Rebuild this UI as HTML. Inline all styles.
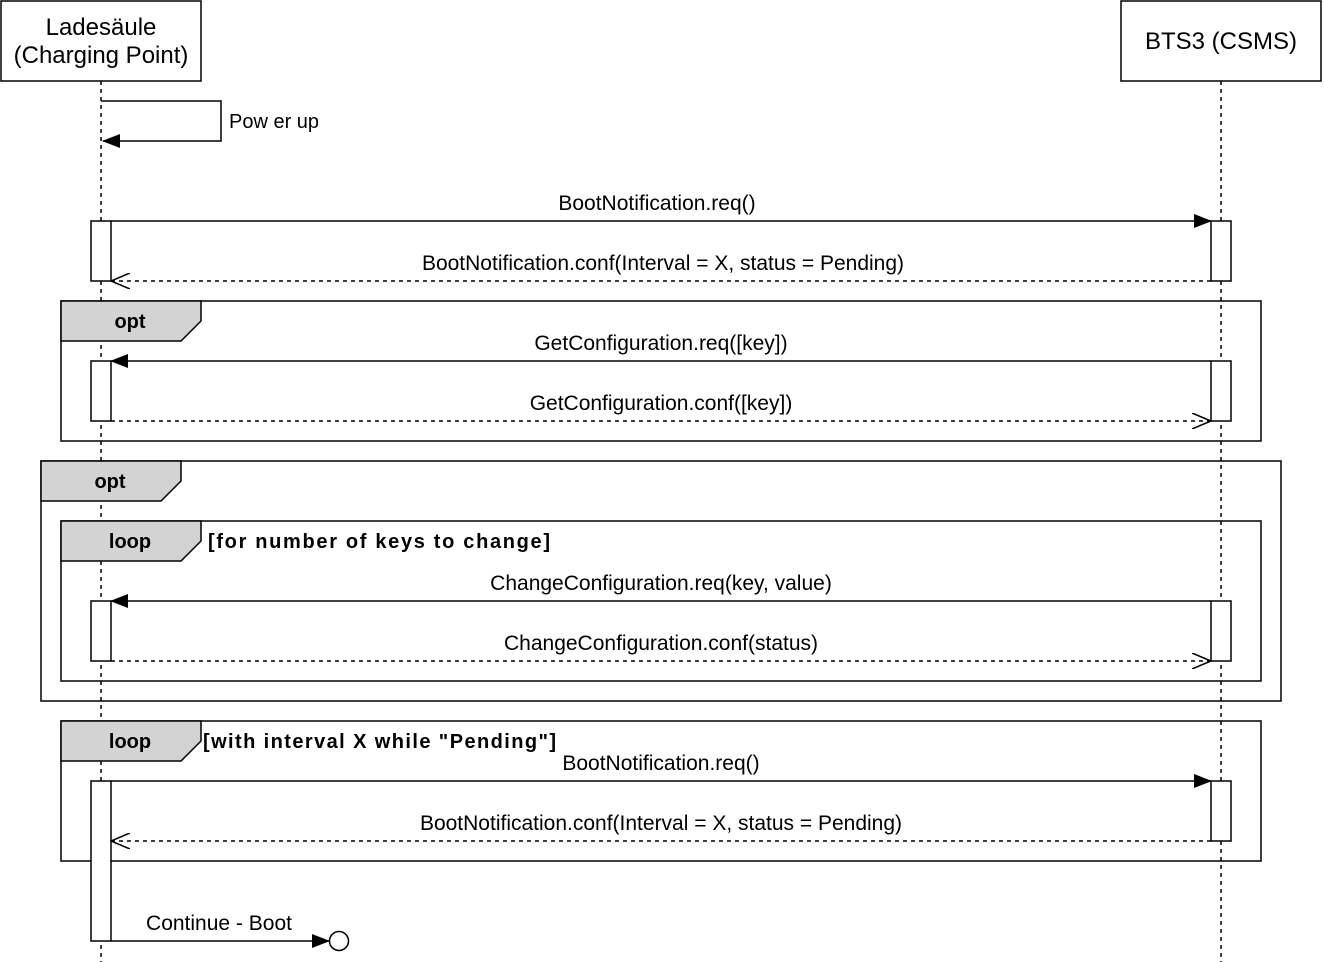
<!DOCTYPE html>
<html><head><meta charset="utf-8"><style>
html,body{margin:0;padding:0;background:#fff}
svg{display:block}
text{font-family:"Liberation Sans",Arial,sans-serif;fill:#000}
</style></head><body>
<svg width="1324" height="962" viewBox="0 0 1324 962" xmlns="http://www.w3.org/2000/svg">
<defs>
<marker id="fa" markerWidth="18" markerHeight="14" refX="17" refY="7" orient="auto" markerUnits="userSpaceOnUse"><path d="M0,0 L18,7 L0,14 Z" fill="#000"/></marker>
<marker id="oa" markerWidth="20" markerHeight="16" refX="19" refY="8" orient="auto" markerUnits="userSpaceOnUse"><path d="M0,0 L19,8 L0,16" fill="none" stroke="#000" stroke-width="1.5"/></marker>
</defs>
<g stroke="#000" stroke-width="1.5" fill="none">
<line x1="101" y1="81" x2="101" y2="962" stroke-dasharray="4,4"/>
<line x1="1221" y1="81" x2="1221" y2="962" stroke-dasharray="4,4"/>
<rect x="1" y="1" width="200" height="80" fill="#fff"/>
<rect x="1121" y="1" width="200" height="80" fill="#fff"/>
<rect x="61" y="301" width="1200" height="140"/>
<rect x="41" y="461" width="1240" height="240"/>
<rect x="61" y="521" width="1200" height="160"/>
<rect x="61" y="721" width="1200" height="140"/>
<path d="M61,301 H201 V321 L181,341 H61 Z" fill="#d3d3d3"/>
<path d="M41,461 H181 V481 L161,501 H41 Z" fill="#d3d3d3"/>
<path d="M61,521 H201 V541 L181,561 H61 Z" fill="#d3d3d3"/>
<path d="M61,721 H201 V741 L181,761 H61 Z" fill="#d3d3d3"/>
<path d="M101,101 H221 V141 H103" marker-end="url(#fa)"/>
<rect x="91" y="221" width="20" height="60" fill="#fff"/>
<rect x="1211" y="221" width="20" height="60" fill="#fff"/>
<rect x="91" y="361" width="20" height="60" fill="#fff"/>
<rect x="1211" y="361" width="20" height="60" fill="#fff"/>
<rect x="91" y="601" width="20" height="60" fill="#fff"/>
<rect x="1211" y="601" width="20" height="60" fill="#fff"/>
<rect x="91" y="781" width="20" height="160" fill="#fff"/>
<rect x="1211" y="781" width="20" height="60" fill="#fff"/>
<line x1="111" y1="221" x2="1211" y2="221" marker-end="url(#fa)"/>
<line x1="1211" y1="281" x2="111" y2="281" stroke-dasharray="4,4" marker-end="url(#oa)"/>
<line x1="1211" y1="361" x2="111" y2="361" marker-end="url(#fa)"/>
<line x1="111" y1="421" x2="1211" y2="421" stroke-dasharray="4,4" marker-end="url(#oa)"/>
<line x1="1211" y1="601" x2="111" y2="601" marker-end="url(#fa)"/>
<line x1="111" y1="661" x2="1211" y2="661" stroke-dasharray="4,4" marker-end="url(#oa)"/>
<line x1="111" y1="781" x2="1211" y2="781" marker-end="url(#fa)"/>
<line x1="1211" y1="841" x2="111" y2="841" stroke-dasharray="4,4" marker-end="url(#oa)"/>
<line x1="111" y1="941" x2="329" y2="941" marker-end="url(#fa)"/>
<circle cx="339" cy="941" r="9.5" fill="#fff"/>
</g>
<g font-size="24" text-anchor="middle">
<text x="101" y="35">Ladesäule</text>
<text x="101" y="63">(Charging Point)</text>
<text x="1221" y="49">BTS3 (CSMS)</text>
</g>
<g font-size="21" text-anchor="middle">
<text x="657" y="210">BootNotification.req()</text>
<text x="663" y="270">BootNotification.conf(Interval = X, status = Pending)</text>
<text x="661" y="350">GetConfiguration.req([key])</text>
<text x="661" y="410">GetConfiguration.conf([key])</text>
<text x="661" y="590">ChangeConfiguration.req(key, value)</text>
<text x="661" y="650">ChangeConfiguration.conf(status)</text>
<text x="661" y="770">BootNotification.req()</text>
<text x="661" y="830">BootNotification.conf(Interval = X, status = Pending)</text>
<text x="219" y="930">Continue - Boot</text>
</g>
<text x="229" y="128" font-size="20">Pow er up</text>
<g font-size="20" font-weight="bold">
<text x="130" y="328" text-anchor="middle">opt</text>
<text x="110" y="488" text-anchor="middle">opt</text>
<text x="130" y="548" text-anchor="middle">loop</text>
<text x="130" y="748" text-anchor="middle">loop</text>
<text x="208" y="548" textLength="342" lengthAdjust="spacing">[for number of keys to change]</text>
<text x="203" y="748" textLength="353" lengthAdjust="spacing">[with interval X while "Pending"]</text>
</g>
</svg>
</body></html>
